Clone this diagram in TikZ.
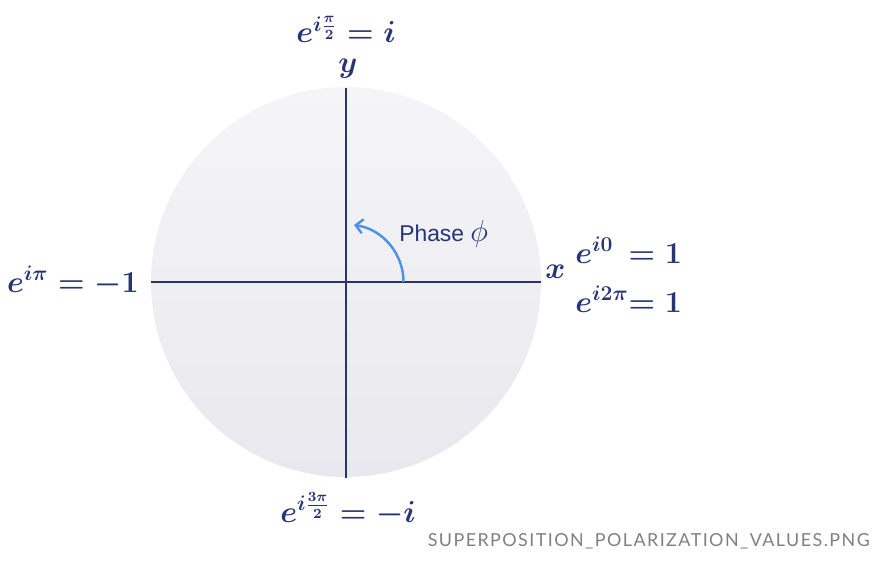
\documentclass[tikz,border=0pt]{standalone}
\usepackage{amsmath}
\usepackage{fontspec}
\usepackage{xcolor}
\usetikzlibrary{arrows.meta}
\newfontfamily\phasefont{Liberation Sans}
\newfontfamily\tagfont{Lato}[LetterSpace=8]

\definecolor{navy}{RGB}{40,52,118}
\definecolor{phaseblue}{RGB}{78,146,226}
\definecolor{disctop}{RGB}{245,244,247}
\definecolor{discbot}{RGB}{233,232,238}

\begin{document}
\begin{tikzpicture}[
  axisline/.style={navy, line width=1.4pt},
  mathlabel/.style={navy, font=\fontsize{17}{20}\selectfont\boldmath, inner sep=0pt},
  phasearrow/.style={phaseblue, line width=1.4pt, -{Straight Barb[length=4pt, width=8pt]}}
]

% Parameters for drawing only
\def\R{3.9}

% Frame
\useasboundingbox (-6.92,-5.56) rectangle (10.58,5.64);

% Disc
\shade[top color=disctop, bottom color=discbot] (0,0) circle (\R);

% Axis ends
\coordinate (O) at (0,0);
\coordinate (W) at (-\R,0);
\coordinate (E) at (\R,0);
\coordinate (N) at (0,3.88);
\coordinate (S) at (0,-3.92);

% Axes
\draw[axisline] (W) -- (E);
\draw[axisline] (S) -- (N);

% Axis letters
\node[mathlabel, anchor=base west] (xlab) at (3.98,0.08) {$x$};
\node[mathlabel, anchor=base] (ylab) at (0.04,4.18) {$y$};

% Values on the unit circle
\node[mathlabel, anchor=base] (top) at (0,4.78) {$e^{i\frac{\pi}{2}} = i$};
\node[mathlabel, anchor=base east] (left) at (-4.14,-0.2) {$e^{i\pi} = -1$};
\node[mathlabel, anchor=base west] (zero) at (4.58,0.38)
  {$\rlap{$e^{i0}$}\phantom{e^{i2\pi}}{=}\;1$};
\node[mathlabel, anchor=base west] (twopi) at (4.58,-0.6)
  {$e^{i2\pi}{=}\;1$};
\node[mathlabel, anchor=base] (bottom) at (0.04,-4.8) {$e^{i\frac{3\pi}{2}} = -i$};

% Phase arrow
\coordinate (phs) at (1.15,0);
\draw[phasearrow] (phs) arc[start angle=0, end angle=82, radius=1.15];
\node[navy, anchor=base west, inner sep=0pt,
  font=\fontsize{13}{15}\phasefont] (phase) at (1.06,0.8)
  {Phase {\fontsize{17}{17}\selectfont$\phi$}};

% File tag
\node[anchor=base east, inner sep=0pt, text=black!50,
  font=\fontsize{10.2}{12}\tagfont] (tag) at (10.48,-5.28)
  {SUPERPOSITION\_POLARIZATION\_VALUES.PNG};

\end{tikzpicture}
\end{document}
